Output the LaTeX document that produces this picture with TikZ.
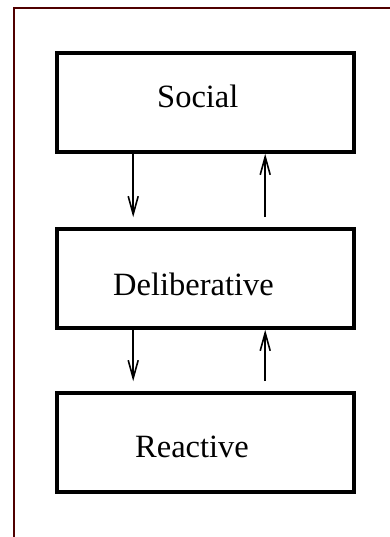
\documentclass[tikz,border=0pt]{standalone}
\usepackage{fontspec}
\setmainfont{Liberation Serif}
\usepackage{tikz}
\usetikzlibrary{arrows.meta, calc}

\definecolor{framered}{RGB}{80,0,0}

\begin{document}
\begin{tikzpicture}[x=1pt, y=-1pt, >={Straight Barb[length=18pt, width=10pt]}]
    \tikzstyle{layer}=[rectangle, draw, line width=3.6pt, minimum width=297pt, minimum height=99pt, inner sep=0pt]
    \tikzstyle{lbl}=[anchor=base west, inner sep=0pt, font=\fontsize{32.5}{38}\selectfont]
    \tikzstyle{flow}=[->, line width=1.6pt]

    \useasboundingbox (0,0) rectangle (389,537);

    % frame
    \draw[framered, line width=2.8pt] (14,538) -- (14,8) -- (390,8);

    \node[layer] (social) at (205.5,102.5) {};
    \node[layer] (delib) at (205.5,278.5) {};
    \node[layer] (react) at (205.5,442.5) {};

    \node[lbl] (tsocial) at (157,108) {Social};
    \node[lbl] (tdelib) at (113,295) {Deliberative};
    \node[lbl] (treact) at (135,457) {Reactive};

    \draw[flow] ($(social.south west)+(78pt,0)$) -- ($(delib.north west)+(78pt,10pt)$);
    \draw[flow] ($(delib.north west)+(210pt,10pt)$) -- ($(social.south west)+(210pt,0)$);
    \draw[flow] ($(delib.south west)+(78pt,0)$) -- ($(react.north west)+(78pt,10pt)$);
    \draw[flow] ($(react.north west)+(210pt,10pt)$) -- ($(delib.south west)+(210pt,0)$);
\end{tikzpicture}
\end{document}
